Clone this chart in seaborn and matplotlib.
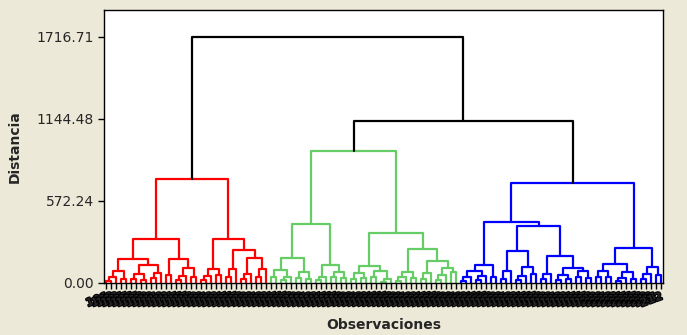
import numpy as np
import pandas as pd
import matplotlib
matplotlib.use("Agg")
import matplotlib.pyplot as plt
import matplotlib.patheffects as pe
import seaborn as sns

# hoja (observacion)
L = ()

# cada nodo: (distancia, izquierda, derecha)
red_tree = (726,
    (307,
        (170,
            (86, (40, (15, L, L), L), (30, L, L)),
            (125, (60, (30, L, L), (20, L, L)), (70, (35, L, L), L))),
        (170,
            (55, L, L),
            (107, (50, (20, L, L), L), (45, L, L)))),
    (307,
        (98, (50, (20, L, L), L), (55, L, L)),
        (232,
            (95, (40, L, L), L),
            (174, (60, (25, L, L), L), (100, (45, L, L), L)))))

green_tree = (921,
    (412,
        (174, (90, (40, L, L), (45, (20, L, L), L)), (80, (35, L, L), (30, L, L))),
        (125, (42, (20, L, L), L), (80, (40, L, L), (35, L, L)))),
    (351,
        (119, (70, (30, L, L), (35, L, L)), (85, (40, L, L), (25, (10, L, L), L))),
        (237,
            (80, (40, (15, L, L), L), (35, L, L)),
            (153, (70, (30, L, L), L), (107, (55, (20, L, L), L), (77, L, L))))))

blue_tree = (700,
    (428,
        (128, (86, (40, (15, L, L), L), (50, (20, L, L), L)), (45, L, L)),
        (400,
            (225, (86, (30, L, L), L), (114, (50, (20, L, L), L), (60, L, L))),
            (188, (63, (25, L, L), L),
                  (107, (55, (20, L, L), (30, L, L)), (84, (40, L, L), (35, L, L)))))),
    (246,
        (135, (86, (40, L, L), (45, L, L)), (80, (35, (15, L, L), L), (30, L, L))),
        (114, (60, (25, L, L), L), (55, L, L))))

top_heights = [1716.71, 1130]
y_ticks = [0.00, 572.24, 1144.48, 1716.71]
colores = {"rojo": "#FF0000", "verde": "#66CC66", "azul": "#0000FF", "top": "#000000"}

# armar segmentos del dendrograma
rows = []
contador = {"hoja": 0, "seg": 0}


def recorrer(nodo, grupo):
    if nodo == L:
        x = contador["hoja"]
        contador["hoja"] += 1
        return x, 0.0
    h, izq, der = nodo
    xi, hi = recorrer(izq, grupo)
    xd, hd = recorrer(der, grupo)
    s = contador["seg"]
    contador["seg"] += 1
    for px, py in [(xi, hi), (xi, h), (xd, h), (xd, hd)]:
        rows.append({"x": px, "y": py, "seg": s, "grupo": grupo})
    return (xi + xd) / 2, h


def unir(h, a, b):
    s = contador["seg"]
    contador["seg"] += 1
    for px, py in [(a[0], a[1]), (a[0], h), (b[0], h), (b[0], b[1])]:
        rows.append({"x": px, "y": py, "seg": s, "grupo": "top"})
    return (a[0] + b[0]) / 2, h


r = recorrer(red_tree, "rojo")
g = recorrer(green_tree, "verde")
b = recorrer(blue_tree, "azul")
gb = unir(top_heights[1], g, b)
unir(top_heights[0], r, gb)

df = pd.DataFrame(rows)
n_hojas = contador["hoja"]
etiquetas = [str(i + 101) for i in range(n_hojas)]

sns.set_style("white")
plt.rcParams['font.family'] = ['DejaVu Sans']

fig = plt.figure(figsize=(6.87, 3.35), dpi=100, facecolor="#ECE9D8")
ax = fig.add_axes([104 / 687, 1 - 283 / 335, 559 / 687, 273 / 335])
ax.set_facecolor("white")

sns.lineplot(data=df, x="x", y="y", units="seg", estimator=None, sort=False,
             hue="grupo", palette=colores, linewidth=1.6, legend=False, ax=ax)

ax.set_xlim(-0.5, n_hojas - 0.5)
ax.set_ylim(0, 1905)
ax.set_yticks(y_ticks)
ax.set_yticklabels([f"{v:.2f}" for v in y_ticks], fontsize=10)
ax.set_xticks(range(n_hojas))
ax.set_xticklabels(etiquetas, rotation=20, ha="right", rotation_mode="anchor",
                   fontsize=8, fontweight="heavy")
for t in ax.get_xticklabels():
    t.set_path_effects([pe.withStroke(linewidth=1.5, foreground="black")])
ax.tick_params(axis="both", direction="out", length=4, width=1, color="black",
               bottom=True, left=True)
ax.tick_params(axis="x", pad=2)

for sp in ax.spines.values():
    sp.set_visible(True)
    sp.set_color("black")
    sp.set_linewidth(1)

ax.set_ylabel("Distancia", fontsize=10, fontweight="bold")
ax.set_xlabel("Observaciones", fontsize=10, fontweight="bold")
ax.yaxis.set_label_coords(-82 / 559, 0.5)
ax.xaxis.set_label_coords(0.5, -35 / 273)

fig.savefig("out.png", dpi=100, facecolor=fig.get_facecolor())
